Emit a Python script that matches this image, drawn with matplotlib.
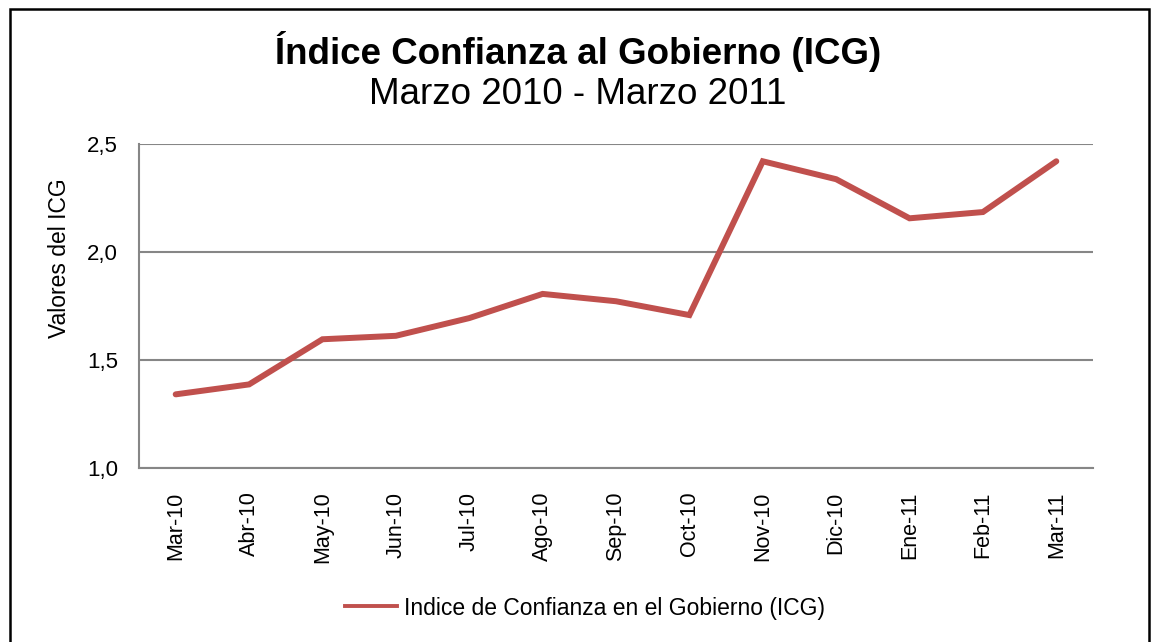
import matplotlib
matplotlib.use("Agg")
import matplotlib.pyplot as plt
from matplotlib.patches import Rectangle
from matplotlib.lines import Line2D

categories = ["Mar-10", "Abr-10", "May-10", "Jun-10", "Jul-10", "Ago-10", "Sep-10",
              "Oct-10", "Nov-10", "Dic-10", "Ene-11", "Feb-11", "Mar-11"]
icg_values = [1.341, 1.387, 1.596, 1.612, 1.694, 1.806, 1.772,
              1.708, 2.420, 2.337, 2.156, 2.185, 2.420]
y_ticks = [1.0, 1.5, 2.0, 2.5]
y_tick_labels = ["1,0", "1,5", "2,0", "2,5"]
series_name = "Indice de Confianza en el Gobierno (ICG)"
title_text = "Índice Confianza al Gobierno (ICG)"
subtitle_text = "Marzo 2010 - Marzo 2011"
y_label = "Valores del ICG"

plt.rcParams['font.family'] = ['Liberation Sans', 'DejaVu Sans']

W, H = 1156, 642
fig = plt.figure(figsize=(W / 100, H / 100), dpi=100)
fig.patch.set_facecolor("white")

# outer frame
fig.patches.append(Rectangle((10 / W, -0.1), (1149 - 10) / W, 1.1 - 9 / H,
                             transform=fig.transFigure, fill=False,
                             edgecolor="black", linewidth=1.8, zorder=0))

left, right, top, bottom = 139, 1093, 144, 468
ax = fig.add_axes([left / W, 1 - bottom / H, (right - left) / W, (bottom - top) / H])

x = list(range(len(categories)))
line, = ax.plot(x, icg_values, color="#C0504D", linewidth=4.3,
                solid_capstyle="round", solid_joinstyle="miter", zorder=3,
                label=series_name)

ax.set_xlim(-0.5, len(categories) - 0.5)
ax.set_ylim(1.0, 2.5)
ax.set_yticks(y_ticks)
ax.set_yticklabels(y_tick_labels, fontsize=16)
ax.set_xticks(x)
ax.set_xticklabels(categories, rotation=90, fontsize=15.5)
ax.tick_params(axis="both", length=0, colors="black")
ax.tick_params(axis="x", pad=17)
ax.tick_params(axis="y", pad=15)

ax.grid(axis="y", color="#868686", linewidth=1.5)
ax.set_axisbelow(True)
for s in ["top", "right"]:
    ax.spines[s].set_visible(False)
for s in ["left", "bottom"]:
    ax.spines[s].set_color("#868686")
    ax.spines[s].set_linewidth(1.5)

ax.set_ylabel(y_label, fontsize=16.5)
ax.yaxis.set_label_coords((71 - left) / (right - left), (bottom - 258) / (bottom - top))

fig.text(0.5, 1 - 52 / H, title_text, ha="center", va="center",
         fontsize=26.5, fontweight="bold")
fig.text(0.5, 1 - 94 / H, subtitle_text, ha="center", va="center", fontsize=26.5)

handle = Line2D([], [], color="#C0504D", linewidth=2.8)
leg = fig.legend(handles=[handle], labels=[series_name], loc="center",
                 bbox_to_anchor=(585 / W, 1 - 608 / H), frameon=False,
                 fontsize=16.5, handlelength=2.3, handletextpad=0.3)

fig.savefig("out.png", dpi=100, facecolor="white")
